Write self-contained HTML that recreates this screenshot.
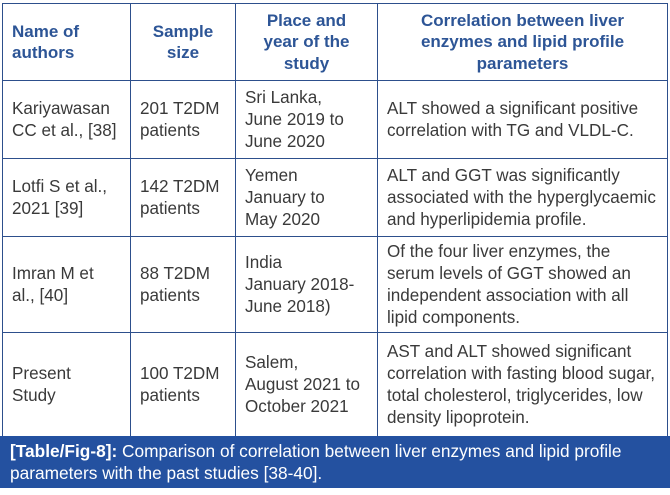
<!DOCTYPE html>
<html><head><style>
body{margin:0;width:670px;height:495px;background:#fff;font-family:"Liberation Sans",sans-serif;position:relative;overflow:hidden}
table{position:absolute;left:2px;top:3px;border-collapse:collapse;width:666px;table-layout:fixed}
td,th{border:1.5px solid #2d4f8c;padding:0 9px;font-size:17.1px;line-height:22px;color:#3a3a3a;vertical-align:middle;text-align:left;font-weight:normal;white-space:nowrap;overflow:hidden}
th{color:#2d5596;font-weight:bold;font-size:17px;text-align:center;line-height:21.5px}
th:first-child{text-align:left}
.cap{position:absolute;left:0;top:436px;width:670px;height:52px;background:#2451a0;color:#fff;font-size:17.3px;line-height:22px;padding:4px 10px;box-sizing:border-box;white-space:nowrap}
</style></head><body>
<table>
<colgroup><col style="width:128px"><col style="width:105px"><col style="width:142px"><col></colgroup>
<tr style="height:77px"><th>Name of<br>authors</th><th>Sample<br>size</th><th>Place and<br>year of the<br>study</th><th>Correlation between liver<br>enzymes and lipid profile<br>parameters</th></tr>
<tr style="height:78px"><td>Kariyawasan<br>CC et al., [38]</td><td>201 T2DM<br>patients</td><td>Sri Lanka,<br>June 2019 to<br>June 2020</td><td>ALT showed a significant positive<br>correlation with TG and VLDL-C.</td></tr>
<tr style="height:78px"><td>Lotfi S et al.,<br>2021 [39]</td><td>142 T2DM<br>patients</td><td>Yemen<br>January to<br>May 2020</td><td>ALT and GGT was significantly<br>associated with the hyperglycaemic<br>and hyperlipidemia profile.</td></tr>
<tr style="height:96px"><td>Imran M et<br>al., [40]</td><td>88 T2DM<br>patients</td><td>India<br>January 2018-<br>June 2018)</td><td>Of the four liver enzymes, the<br>serum levels of GGT showed an<br>independent association with all<br>lipid components.</td></tr>
<tr style="height:104px"><td>Present<br>Study</td><td>100 T2DM<br>patients</td><td>Salem,<br>August 2021 to<br>October 2021</td><td>AST and ALT showed significant<br>correlation with fasting blood sugar,<br>total cholesterol, triglycerides, low<br>density lipoprotein.</td></tr>
</table>
<div class="cap"><b>[Table/Fig-8]:</b> Comparison of correlation between liver enzymes and lipid profile<br>parameters with the past studies [38-40].</div>
</body></html>
